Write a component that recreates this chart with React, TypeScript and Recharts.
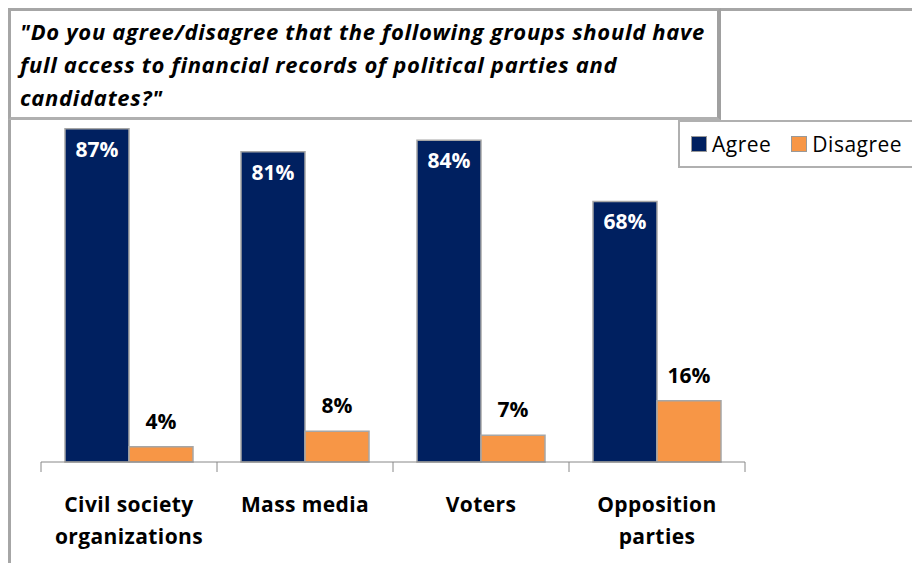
import { BarChart, Bar, XAxis, YAxis, LabelList } from "recharts";

const categories = ["Civil society organizations", "Mass media", "Voters", "Opposition parties"];
const agree = [87, 81, 84, 68];
const disagree = [4, 8, 7, 16];
const labelLines = [["Civil society", "organizations"], ["Mass media"], ["Voters"], ["Opposition", "parties"]];

const data = categories.map((name, i) => ({ name, agree: agree[i], disagree: disagree[i] }));

const NAVY = "#002060";
const ORANGE = "#F79646";
const FONT = "'Open Sans', sans-serif";
const BAND = 176;

function CategoryTick(props: any) {
  const { x, y, index } = props;
  const lines = labelLines[index] || [];
  return (
    <g>
      <line x1={x - BAND / 2} x2={x - BAND / 2} y1={y - 8} y2={y + 2} stroke="#888" />
      {index === categories.length - 1 && (
        <line x1={x + BAND / 2} x2={x + BAND / 2} y1={y - 8} y2={y + 2} stroke="#888" />
      )}
      {lines.map((t, i) => (
        <text
          key={i}
          x={x}
          y={y + 42 + i * 32}
          textAnchor="middle"
          fontFamily={FONT}
          fontWeight="bold"
          fontSize={21}
          letterSpacing={0.4}
          fill="#000"
        >
          {t}
        </text>
      ))}
    </g>
  );
}

function LegendBox() {
  return (
    <div
      style={{
        position: "absolute",
        left: 678,
        top: 120,
        width: 250,
        height: 48,
        display: "flex",
        alignItems: "center",
        fontFamily: FONT,
        fontSize: 21,
        letterSpacing: 0.5,
        color: "#000",
        border: "2px solid #b0b0b0",
        paddingLeft: 11,
        boxSizing: "border-box",
        background: "#fff",
        whiteSpace: "nowrap",
      }}
    >
      <span style={{ display: "inline-flex", alignItems: "center", gap: 5 }}>
        <span style={{ width: 14, height: 14, background: NAVY, border: "1px solid #999" }} />
        Agree
      </span>
      <span style={{ display: "inline-flex", alignItems: "center", gap: 5, marginLeft: 20 }}>
        <span style={{ width: 14, height: 14, background: ORANGE, border: "1px solid #999" }} />
        Disagree
      </span>
    </div>
  );
}

export default function App() {
  return (
    <div style={{ position: "absolute", left: 0, top: 0, width: 912, height: 563, background: "#fff", overflow: "hidden" }}>
      <div style={{ position: "absolute", left: 8, top: 8, right: 0, height: 3, background: "#a6a6a6" }} />
      <div style={{ position: "absolute", left: 8, top: 8, width: 3, bottom: 0, background: "#a6a6a6" }} />
      <BarChart
        width={912}
        height={563}
        data={data}
        margin={{ top: 79, right: 167, left: 41, bottom: 0 }}
        barGap={0}
        barSize={64}
      >
        <YAxis hide domain={[0, 100]} />
        <XAxis
          dataKey="name"
          axisLine={{ stroke: "#888" }}
          tickLine={false}
          tick={<CategoryTick />}
          interval={0}
          height={101}
        />
        <Bar dataKey="agree" fill={NAVY} stroke="#a6a6a6" strokeWidth={1.5} isAnimationActive={false}>
          <LabelList
            dataKey="agree"
            position="insideTop"
            offset={13}
            formatter={(v: any) => `${v}%`}
            fill="#fff"
            fontFamily={FONT}
            fontWeight="bold"
            fontSize={21}
          />
        </Bar>
        <Bar dataKey="disagree" fill={ORANGE} stroke="#a6a6a6" strokeWidth={1.5} isAnimationActive={false}>
          <LabelList
            dataKey="disagree"
            position="top"
            offset={18}
            formatter={(v: any) => `${v}%`}
            fill="#000"
            fontFamily={FONT}
            fontWeight="bold"
            fontSize={21}
          />
        </Bar>
      </BarChart>
      <LegendBox />
      <div
        style={{
          position: "absolute",
          left: 8,
          top: 8,
          width: 706,
          height: 106,
          border: "3px solid #a6a6a6",
          borderRight: "4px solid #a0a0a0",
          borderBottom: "3px solid #b0b0b0",
          background: "#fff",
          boxSizing: "content-box",
          fontFamily: FONT,
          fontStyle: "italic",
          fontWeight: "bold",
          fontSize: 22,
          letterSpacing: 0.7,
          lineHeight: "33px",
          padding: 0,
          whiteSpace: "nowrap",
        }}
      >
        <div style={{ paddingLeft: 9, paddingTop: 4 }}>
          "Do you agree/disagree that the following groups should have
          <br />
          full access to financial records of political parties and
          <br />
          candidates?"
        </div>
      </div>
    </div>
  );
}
